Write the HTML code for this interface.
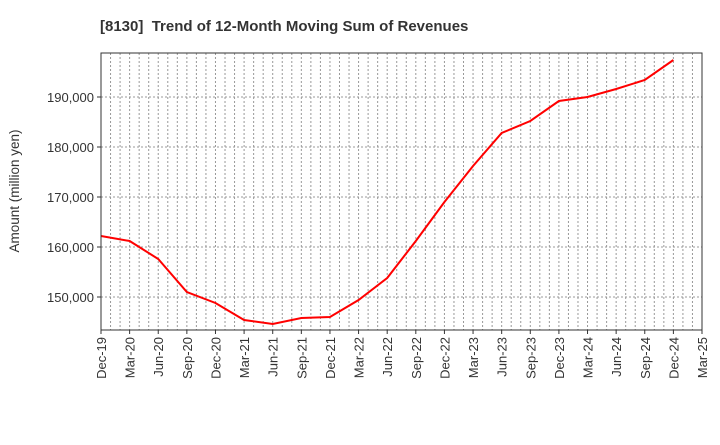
<!DOCTYPE html>
<html><head><meta charset="utf-8"><style>
body{margin:0;background:#fff;font-family:"Liberation Sans",sans-serif}
</style></head><body>
<svg width="720" height="440" xmlns="http://www.w3.org/2000/svg">
<text x="100" y="31" text-anchor="start" font-size="15" font-weight="bold" fill="#333" xml:space="preserve">[8130]  Trend of 12-Month Moving Sum of Revenues</text>
<g id="grid"></g>
<g id="axes"></g>
<polyline id="line" fill="none" stroke="#ff0000" stroke-width="2"/>
<rect x="101" y="53" width="601" height="277" fill="none" stroke="#333" stroke-width="1"/>
<text transform="translate(19,191) rotate(-90)" text-anchor="middle" font-size="13.5" fill="#333">Amount (million yen)</text>
</svg>
<script>
const xLabels=["Dec-19","Mar-20","Jun-20","Sep-20","Dec-20","Mar-21","Jun-21","Sep-21","Dec-21","Mar-22","Jun-22","Sep-22","Dec-22","Mar-23","Jun-23","Sep-23","Dec-23","Mar-24","Jun-24","Sep-24","Dec-24","Mar-25"];
const values=[162200,161200,157600,151000,148800,145400,144600,145800,146000,149400,153800,161200,169000,176200,182800,185200,189200,190000,191600,193400,197400];
const yTicks=[150000,160000,170000,180000,190000];
const NS="http://www.w3.org/2000/svg";
const L=101,R=702,T=53,B=330,yMin=143400,yMax=198800;
const x=i=>L+(R-L)*i/(xLabels.length-1);
const y=v=>B-(v-yMin)/(yMax-yMin)*(B-T);
const grid=document.getElementById('grid'),axes=document.getElementById('axes');
function mk(tag,at,parent){const e=document.createElementNS(NS,tag);for(const k in at)e.setAttribute(k,at[k]);parent.appendChild(e);return e;}
for(let m=1;m<(xLabels.length-1)*3;m++){const xx=L+(R-L)*m/((xLabels.length-1)*3);
const g=mk('line',{x1:xx,x2:xx,y1:T,y2:B,stroke:'#999','stroke-dasharray':'2,2','stroke-width':1},grid);

}
yTicks.forEach(v=>{const g=mk('line',{x1:L,x2:R,y1:y(v),y2:y(v),stroke:'#999','stroke-dasharray':'2,2','stroke-width':1},grid);


const t=mk('text',{x:L-7,y:y(v)+5,'text-anchor':'end','font-size':13,fill:'#333'},axes);t.textContent=v.toLocaleString('en-US');


mk('line',{x1:L-4,x2:L,y1:y(v),y2:y(v),stroke:'#333'},axes);});
xLabels.forEach((lab,i)=>{mk('line',{x1:x(i),x2:x(i),y1:B,y2:B+4,stroke:'#333'},axes);
const t=mk('text',{transform:`translate(${x(i)+5},${B+7}) rotate(-90)`,'text-anchor':'end','font-size':13,fill:'#333'},axes);t.textContent=lab;

});
document.getElementById('line').setAttribute('points',values.map((v,i)=>x(i)+','+y(v)).join(' '));
</script>
</body></html>
